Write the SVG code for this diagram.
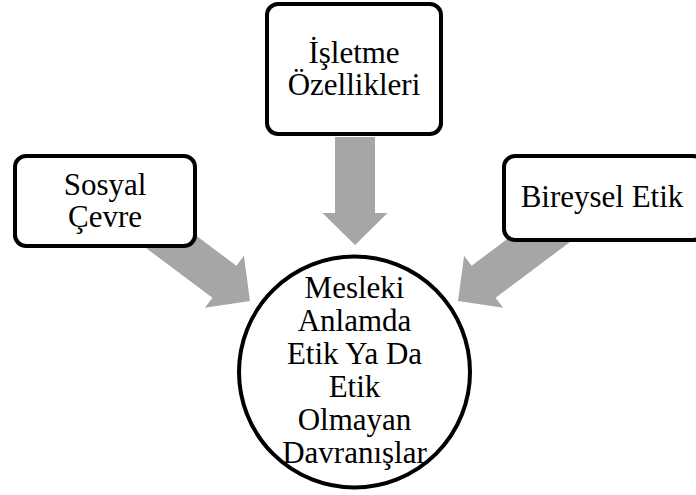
<svg xmlns="http://www.w3.org/2000/svg" width="696" height="495" viewBox="0 0 696 495">
<style>
.box{fill:#fff;stroke:#000;stroke-width:4}
.arr{fill:#a6a6a6;stroke:none}
text{font-family:"Liberation Serif","Times New Roman",serif;font-size:31px;fill:#000;text-anchor:middle}
</style>
<defs>
<polygon id="arrowShort" points="-20,-108 20,-108 20,-32 32.5,-32 0,0 -32.5,-32 -20,-32"/>
<polygon id="arrowLong" points="-20,-140 20,-140 20,-32 32.5,-32 0,0 -32.5,-32 -20,-32"/>
</defs>
<rect width="696" height="495" fill="#fff"/>
<g id="connectors">
<use href="#arrowShort" class="arr" transform="translate(355,245)"/>
<use href="#arrowLong" class="arr" transform="translate(458,301) rotate(53.13)"/>
<use href="#arrowLong" class="arr" transform="translate(250,301) rotate(-53.13)"/>
</g>
<g id="isletme">
<rect class="box" x="267" y="4" width="174" height="130" rx="11"/>
<text x="354" y="63">İşletme</text>
<text x="354" y="95">Özellikleri</text>
</g>
<g id="sosyal">
<rect class="box" x="15" y="156" width="180" height="90" rx="11"/>
<text x="105" y="195">Sosyal</text>
<text x="105" y="227">Çevre</text>
</g>
<g id="bireysel">
<rect class="box" x="504" y="156" width="200" height="84" rx="11"/>
<text x="602" y="207">Bireysel Etik</text>
</g>
<g id="merkez">
<circle class="box" cx="354.5" cy="372" r="115.5"/>
<text x="354.5" y="298">Mesleki</text>
<text x="354.5" y="331">Anlamda</text>
<text x="354.5" y="364">Etik Ya Da</text>
<text x="354.5" y="397">Etik</text>
<text x="354.5" y="430">Olmayan</text>
<text x="354.5" y="463">Davranışlar</text>
</g>
</svg>
